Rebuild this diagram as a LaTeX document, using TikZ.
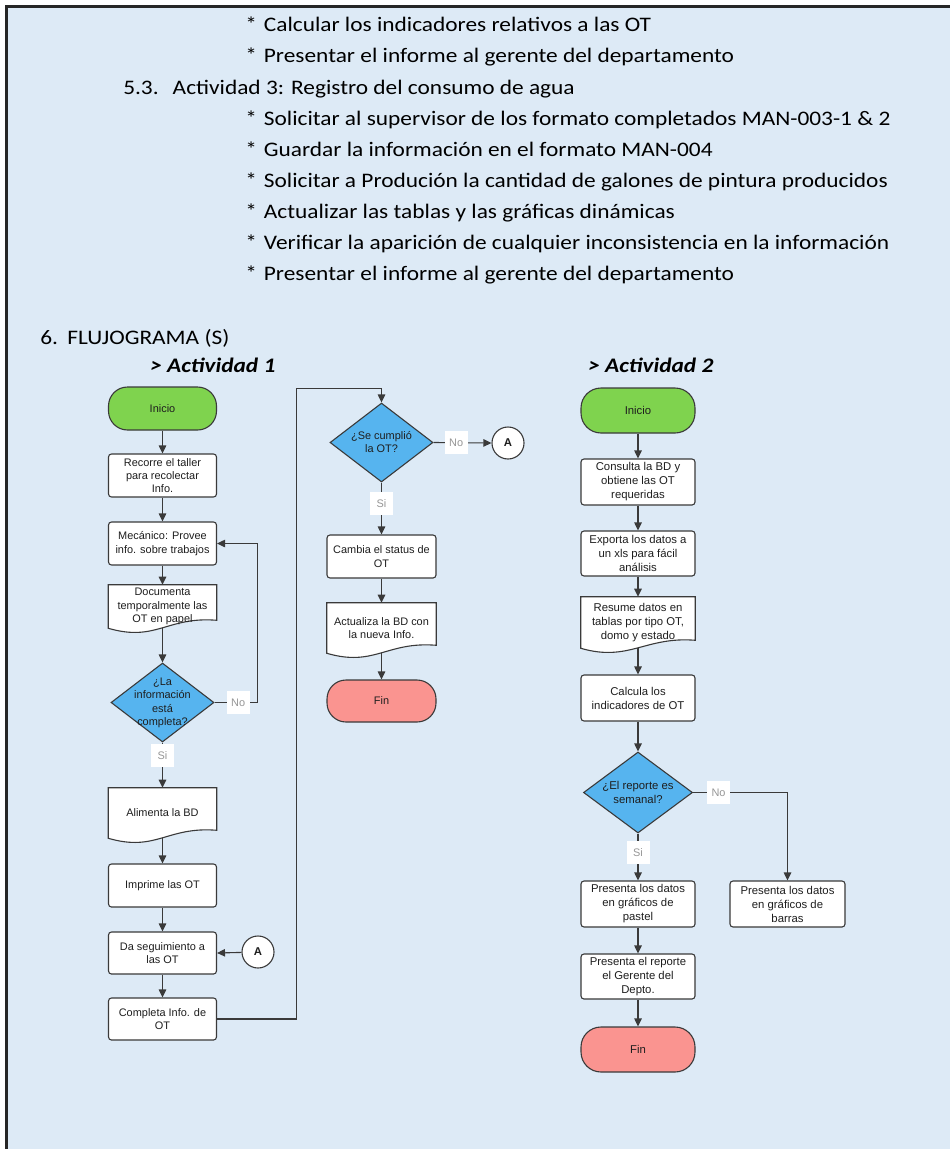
\documentclass[tikz,border=0pt]{standalone}
\usepackage{fontspec}
\usepackage{graphicx}
\setmainfont{Carlito}
\newfontfamily\chartfont{Liberation Sans}
\usetikzlibrary{shapes.geometric,arrows.meta,calc}
\newdimen\pxu \pxu=0.75pt

\definecolor{panel}{RGB}{221,234,246}
\definecolor{edge}{RGB}{58,58,58}
\definecolor{startgreen}{RGB}{127,211,78}
\definecolor{endpink}{RGB}{250,148,144}
\definecolor{decblue}{RGB}{86,180,239}
\definecolor{lbltext}{RGB}{150,150,150}
\definecolor{ink}{RGB}{30,30,30}

% body text of the page is set slightly widened
\newcommand\wide[1]{\scalebox{1.13}[1]{#1}}

\pgfdeclarelayer{under}
\pgfsetlayers{under,main}

% wavy "document" outline drawn behind a node
\newcommand\docoutline[1]{%
  \begin{pgfonlayer}{under}
    \draw[edge line, fill=white]
      (#1.south west) -- (#1.north west) -- (#1.north east) --
      ($(#1.south east)+(0,8)$)
      .. controls ($(#1.south east)+(-50,12)$) and ($(#1.south west)+(48,-14)$) ..
      (#1.south west) -- cycle;
  \end{pgfonlayer}}

\begin{document}
\begin{tikzpicture}[x=0.75pt,y=0.75pt,
  edge line/.style={draw=edge, line width=1.1\pxu},
  arr/.style={edge line, -{Triangle[length=6pt,width=5.6pt]}},
  ftA/.style={font=\chartfont\fontsize{8.2}{10}\selectfont, text=ink},
  ftB/.style={font=\chartfont\fontsize{8.5}{10.5}\selectfont, text=ink},
  stepA/.style={edge line, fill=white, rounded corners=3\pxu, ftA,
    minimum width=108\pxu, minimum height=43\pxu, inner sep=1pt, align=center},
  stepB/.style={stepA, ftB, minimum width=114\pxu, minimum height=46\pxu},
  docA/.style={ftA, minimum width=108\pxu, minimum height=43\pxu,
    inner sep=1pt, align=center},
  docB/.style={docA, ftB, minimum width=114\pxu},
  termA/.style={stepA, rounded corners=19\pxu},
  termB/.style={stepB, rounded corners=20\pxu},
  decision/.style={diamond, edge line, fill=decblue, inner sep=0pt,
    minimum width=103\pxu, minimum height=79\pxu},
  dtext/.style={align=center, inner sep=0pt},
  lbl/.style={fill=white, text=lbltext, font=\chartfont\fontsize{8.2}{10}\selectfont,
    minimum width=23\pxu, minimum height=23\pxu, inner sep=0pt},
  conector/.style={circle, edge line, fill=white, minimum size=32\pxu, inner sep=0pt,
    font=\chartfont\bfseries\fontsize{8.5}{10}\selectfont, text=ink},
  para/.style={anchor=base west, inner sep=0pt, font=\fontsize{15.5}{18}\selectfont, text=black},
  head/.style={anchor=base west, inner sep=0pt, font=\fontsize{15.5}{18}\selectfont\bfseries\itshape}
]
\useasboundingbox (0,0) rectangle (950,-1149);

% page and framed panel
\begin{pgfonlayer}{under}
  \fill[white] (0,0) rectangle (950,-1149);
  \fill[panel] (6.5,-6.5) rectangle (950,-1149);
  \draw[line width=2.4\pxu, black!85] (6.5,-1149) -- (6.5,-6.5) -- (950,-6.5);
\end{pgfonlayer}

% ---------- list text ----------
\node[para] (t1) at (245,-32)  {\wide{*\hspace{0.3em}Calcular los indicadores relativos a las OT}};
\node[para] (t2) at (245,-63)  {\wide{*\hspace{0.3em}Presentar el informe al gerente del departamento}};
\node[para] (t3) at (123,-94)  {\wide{5.3.\hspace{0.6em}Actividad 3: Registro del consumo de agua}};
\node[para] (t4) at (245,-125) {\wide{*\hspace{0.3em}Solicitar al supervisor de los formato completados MAN-003-1 \& 2}};
\node[para] (t5) at (245,-156) {\wide{*\hspace{0.3em}Guardar la información en el formato MAN-004}};
\node[para] (t6) at (245,-187) {\wide{*\hspace{0.3em}Solicitar a Produción la cantidad de galones de pintura producidos}};
\node[para] (t7) at (245,-218) {\wide{*\hspace{0.3em}Actualizar las tablas y las gráficas dinámicas}};
\node[para] (t8) at (245,-249) {\wide{*\hspace{0.3em}Verificar la aparición de cualquier inconsistencia en la información}};
\node[para] (t9) at (245,-280) {\wide{*\hspace{0.3em}Presentar el informe al gerente del departamento}};

\node[para] (sec) at (40,-344) {\wide{6.\hspace{0.4em}FLUJOGRAMA (S)}};
\node[head] (h1) at (150,-372) {\wide{> Actividad 1}};
\node[head] (h2) at (588,-372) {\wide{> Actividad 2}};

% ---------- Actividad 1, first column ----------
\node[termA, fill=startgreen] (i1) at (162.5,-408.5) {Inicio};
\node[stepA] (b1) at (162.5,-475.5) {Recorre el taller\\para recolectar\\Info.};
\node[stepA] (b2) at (162.5,-543.5) {Mecánico: Provee\\info. sobre trabajos};
\node[docA] (doc1) at (162.5,-606.5) {Documenta\\temporalmente las\\OT en papel};
\docoutline{doc1}
\node[decision] (d1) at (162.5,-702.5) {};
\node[dtext, ftA] (d1t) at (162.5,-703) {¿La\\información\\está\\completa?};
\node[docA, minimum height=50\pxu] (doc2) at (162.5,-813) {Alimenta la BD};
\docoutline{doc2}
\node[stepA] (b3) at (162.5,-885.5) {Imprime las OT};
\node[stepA, minimum height=42\pxu] (b4) at (162.5,-953) {Da seguimiento a\\las OT};
\node[conector] (cA1) at (258,-952) {A};
\node[stepA, minimum height=42\pxu] (b5) at (162.5,-1019) {Completa Info. de\\OT};

% ---------- Actividad 1, second column ----------
\node[decision] (d2) at (381.5,-442.5) {};
\node[dtext, ftA] (d2t) at (381.5,-442) {¿Se cumplió\\la OT?};
\node[conector] (cA2) at (508,-443) {A};
\node[stepA, minimum width=109\pxu] (b6) at (381.5,-556.5) {Cambia el status de\\OT};
\node[docA, minimum width=109\pxu, minimum height=50\pxu] (doc3) at (381.5,-628) {Actualiza la BD con\\la nueva Info.};
\docoutline{doc3}
\node[termA, minimum width=109\pxu, minimum height=42\pxu, fill=endpink] (f1) at (381.5,-701) {Fin};

% ---------- Actividad 2 ----------
\node[termB, fill=startgreen, minimum height=45\pxu] (i2) at (638,-410.5) {Inicio};
\node[stepB] (c1) at (638,-482) {Consulta la BD y\\obtiene las OT\\requeridas};
\node[stepB, minimum height=45\pxu] (c2) at (638,-553.5) {Exporta los datos a\\un xls para fácil\\análisis};
\node[docB, minimum height=51\pxu] (doc4) at (638,-622.5) {Resume datos en\\tablas por tipo OT,\\domo y estado};
\docoutline{doc4}
\node[stepB] (c3) at (638,-698) {Calcula los\\indicadores de OT};
\node[decision, minimum width=109\pxu, minimum height=81\pxu] (d3) at (638,-792.5) {};
\node[dtext, ftB] (d3t) at (638,-792) {¿El reporte es\\semanal?};
\node[stepB] (c4) at (638,-904) {Presenta los datos\\en gráficos de\\pastel};
\node[stepB, minimum width=115\pxu] (c5) at (787.5,-904) {Presenta los datos\\en gráficos de\\barras};
\node[stepB, minimum height=45\pxu] (c6) at (638,-976.5) {Presenta el reporte\\el Gerente del\\Depto.};
\node[termB, fill=endpink, minimum height=45\pxu] (f2) at (638,-1049.5) {Fin};

% ---------- connectors, Actividad 1 ----------
\draw[arr] (i1) -- (b1);
\draw[arr] (b1) -- (b2);
\draw[arr] (b2) -- (doc1);
\draw[arr] (doc1.south) -- (d1.north);
\draw[arr] (d1.east) -- node[lbl, pos=0.55] {No} ++(43,0) |- (b2.east);
\draw[arr] (d1.south) -- node[lbl, pos=0.28] {Si} (doc2.north);
\draw[arr] (doc2.south) -- (b3.north);
\draw[arr] (b3) -- (b4);
\draw[arr] (cA1) -- (b4.east);
\draw[arr] (b4) -- (b5);
\draw[arr] (b5.east) -- ++(79,0) |- ($(d2.north)+(0,14)$) -- (d2.north);
\draw[arr] (d2.east) -- node[lbl, pos=0.39] {No} (cA2.west);
\draw[arr] (d2.south) -- node[lbl, pos=0.4] {Si} (b6.north);
\draw[arr] (b6) -- (doc3.north);
\draw[arr] (doc3.south) -- (f1.north);

% ---------- connectors, Actividad 2 ----------
\draw[arr] (i2) -- (c1);
\draw[arr] (c1) -- (c2);
\draw[arr] (c2) -- (doc4.north);
\draw[arr] (doc4.south) -- (c3.north);
\draw[arr] (c3) -- (d3.north);
\draw[arr] (d3.south) -- node[lbl, pos=0.4] {Si} (c4.north);
\draw[arr] (d3.east) -- node[lbl, pos=0.27] {No} (d3.east -| c5.north) -- (c5.north);
\draw[arr] (c4) -- (c6);
\draw[arr] (c6) -- (f2);
\end{tikzpicture}
\end{document}
